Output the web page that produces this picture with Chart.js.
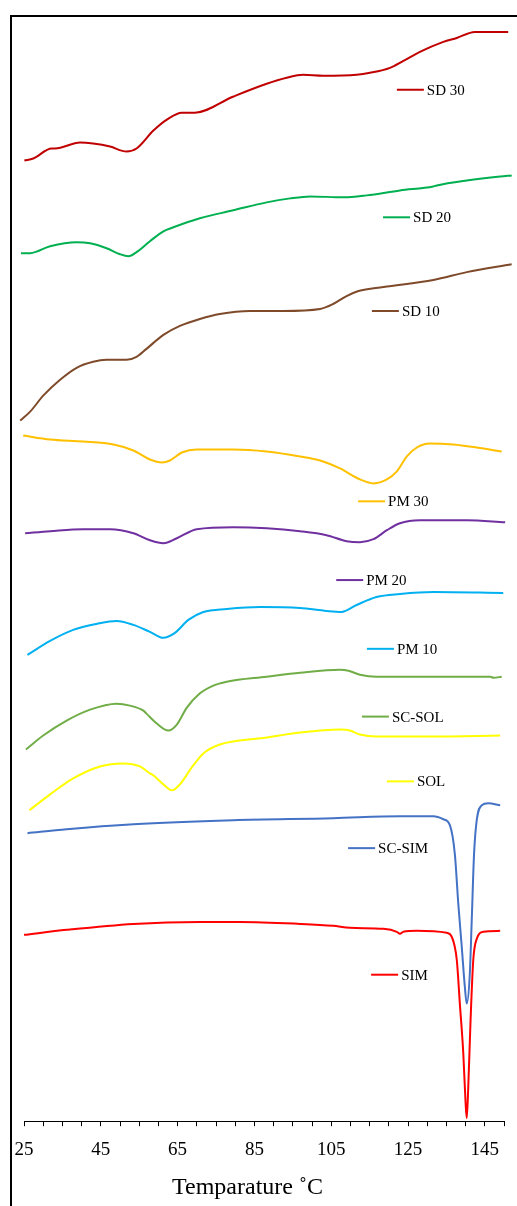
<!DOCTYPE html>
<html>
<head>
<meta charset="utf-8">
<script src="https://cdn.jsdelivr.net/npm/chart.js@4.4.1/dist/chart.umd.min.js"></script>
<style>
    body { margin: 0; background: #fff; }
    #wrap { position: relative; width: 517px; height: 1206px; overflow: hidden; }
    #frame {
        position: absolute; left: 10px; top: 15px; width: 700px; height: 1400px;
        border-left: 2px solid #000; border-top: 2px solid #000; pointer-events: none;
    }
</style>
</head>
<body>
<div id="wrap">
    <canvas id="dsc-chart" width="517" height="1206"></canvas>
    <div id="frame"></div>
</div>
<script>
/*
/----------------------------------------
/- DSC thermograms, stacked (offset heat flow, arb. units)
/- id canvas = dsc-chart
/----------------------------------------
*/

// series names + colours
const seriesNames = ["SD 30", "SD 20", "SD 10", "PM 30", "PM 20", "PM 10", "SC-SOL", "SOL", "SC-SIM", "SIM"];
const seriesColors = ["#C00000", "#00B050", "#7E4A2A", "#FFC000", "#7030A0", "#00B0F0", "#70AD47", "#FFFF00", "#4472C4", "#FF0000"];

// temperature (x) / signal (y)
const sd30T = [25.1, 27.4, 32.2, 33.1, 39.6, 43.0, 47.4, 51.7, 54.3, 58.7, 62.2, 66.1, 69.5, 79.4, 88.2, 93.4, 97.7, 102.9, 111.6, 115.1, 120.3, 123.8, 128.1, 134.2, 137.7, 142.4, 151.1, 151.6];
const sd30Y = [964, 966, 976, 976, 982, 981, 978, 973, 976, 994, 1005, 1012, 1012, 1028, 1041, 1047, 1050, 1049, 1050, 1052, 1057, 1064, 1073, 1083, 1087, 1093, 1093, 1090];

const sd20T = [24.2, 26.6, 31.8, 38.7, 42.2, 46.5, 50.0, 52.2, 54.3, 57.8, 61.3, 63.9, 70.8, 79.5, 88.2, 94.3, 99.5, 108.2, 114.2, 122.9, 131.6, 132.5, 140.3, 149.0, 152.0];
const sd20Y = [871, 871, 878, 882, 881, 876, 870, 868, 872, 883, 893, 897, 906, 914, 922, 926, 928, 927, 929, 934, 938, 939, 944, 948, 949];

const sd10T = [24.0, 26.6, 30.0, 34.4, 38.7, 43.0, 46.5, 51.7, 54.3, 56.9, 61.3, 65.6, 70.8, 76.0, 83.9, 92.5, 102.1, 105.5, 109.0, 112.1, 118.6, 131.6, 140.3, 152.0];
const sd10Y = [703, 712, 728, 744, 756, 762, 764, 764, 767, 775, 789, 798, 805, 810, 813, 813, 815, 820, 828, 833, 837, 844, 852, 860];

const pm30T = [24.8, 31.8, 40.4, 48.3, 53.5, 57.8, 60.9, 63.0, 66.1, 70.0, 79.5, 88.2, 96.9, 102.1, 107.3, 112.5, 116.0, 119.5, 122.1, 124.7, 127.3, 130.7, 136.8, 142.9, 149.4];
const pm30Y = [688, 684, 682, 679, 673, 664, 661, 663, 671, 674, 674, 672, 667, 663, 655, 644, 640, 644, 652, 667, 676, 680, 679, 676, 672];

const pm20T = [25.3, 31.8, 40.4, 47.4, 53.5, 57.8, 61.3, 64.8, 70.0, 79.5, 88.2, 96.9, 103.8, 109.0, 112.5, 116.0, 119.5, 122.9, 128.1, 140.3, 150.3];
const pm20Y = [590, 592, 594, 594, 590, 583, 580, 585, 594, 596, 595, 592, 588, 582, 581, 584, 593, 600, 603, 603, 601];

const pm10T = [25.9, 31.8, 37.8, 43.9, 49.1, 53.5, 57.8, 61.3, 64.3, 67.8, 71.7, 77.8, 86.5, 96.9, 103.8, 107.7, 111.6, 116.8, 122.9, 131.6, 149.8];
const pm10Y = [468, 482, 493, 499, 502, 498, 491, 485, 490, 503, 511, 514, 516, 515, 512, 511, 518, 526, 529, 531, 530];

const scSolT = [25.5, 30.0, 36.1, 42.2, 49.1, 52.6, 56.1, 56.9, 59.6, 62.6, 64.8, 67.4, 70.4, 74.3, 77.8, 88.2, 96.9, 107.3, 109.5, 112.5, 116.8, 131.6, 146.4, 147.3, 149.4];
const scSolY = [373, 387, 402, 413, 419, 417, 412, 409, 399, 392, 398, 415, 428, 437, 441, 446, 450, 453, 452, 448, 446, 446, 446, 445, 446];

const solT = [26.4, 31.8, 37.8, 44.8, 50.9, 55.2, 57.8, 58.7, 61.3, 63.5, 65.6, 68.7, 71.7, 76.0, 88.2, 96.9, 107.3, 109.9, 112.5, 116.8, 131.6, 149.0];
const solY = [312, 328, 344, 356, 359, 356, 349, 347, 338, 332, 338, 355, 369, 378, 385, 390, 393, 392, 388, 386, 386, 387];

const scSimT = [25.9, 36.1, 53.5, 79.5, 105.5, 122.9, 131.6, 134.2, 135.9, 137.2, 138.1, 139.0, 139.8, 140.3, 141.1, 141.6, 142.2, 142.9, 144.2, 145.9, 149.0];
const scSimY = [289, 293, 298, 302, 304, 306, 306, 303, 297, 268, 218, 175, 135, 118, 148, 202, 268, 302, 317, 319, 317];

const simT = [25.0, 36.1, 53.5, 70.8, 81.3, 96.9, 105.5, 109.9, 118.6, 122.1, 122.9, 123.8, 127.3, 135.1, 136.4, 137.7, 138.5, 139.4, 140.0, 140.3, 140.7, 141.3, 142.0, 142.9, 144.6, 149.0];
const simY = [187, 192, 198, 200, 200, 198, 196, 194, 193, 190, 188, 190, 191, 189, 185, 162, 118, 68, 18, 3, 35, 102, 162, 183, 190, 191];

// where each inline label sits (start of its little line key)
const labelT = [122.1, 118.5, 115.6, 112.0, 106.3, 114.3, 113.0, 119.5, 109.4, 115.4];
const labelY = [1035, 907, 813, 622, 543, 474, 406, 341, 274, 147];

// x axis
const xMin = 25;
const xMax = 150;
const xMajorTicks = [25, 45, 65, 85, 105, 125, 145];

const seriesT = [sd30T, sd20T, sd10T, pm30T, pm20T, pm10T, scSolT, solT, scSimT, simT];
const seriesY = [sd30Y, sd20Y, sd10Y, pm30Y, pm20Y, pm10Y, scSolY, solY, scSimY, simY];

// setup chart
const dataDsc = {
    datasets: seriesNames.map((name, i) => ({
        label: name,
        data: seriesT[i].map((t, j) => ({ x: t, y: seriesY[i][j] })),
        borderColor: seriesColors[i],
        borderWidth: 2,
        pointRadius: 0,
        fill: false,
        cubicInterpolationMode: "monotone",
        clip: false,
    })),
};

// inline labels: short line + name, next to each curve
const inlineLabels = {
    id: "inlineLabels",
    afterDatasetsDraw(chart) {
        const { ctx, scales } = chart;
        ctx.save();
        ctx.font = "15px 'Liberation Serif'";
        ctx.textBaseline = "middle";
        ctx.fillStyle = "#000";
        seriesNames.forEach((name, i) => {
            const x = scales.x.getPixelForValue(labelT[i]);
            const y = scales.y.getPixelForValue(labelY[i]);
            ctx.strokeStyle = seriesColors[i];
            ctx.lineWidth = 2;
            ctx.beginPath();
            ctx.moveTo(x, y);
            ctx.lineTo(x + 27, y);
            ctx.stroke();
            ctx.fillText(name, x + 30, y + 1);
        });
        ctx.restore();
    },
};

// axis title, sits a little left of centre like the original
const axisTitle = {
    id: "axisTitle",
    afterDraw(chart) {
        const { ctx, scales, chartArea } = chart;
        ctx.save();
        ctx.font = "24px 'Liberation Serif'";
        ctx.textAlign = "center";
        ctx.textBaseline = "alphabetic";
        ctx.fillStyle = "#000";
        ctx.fillText("Temparature ˚C", scales.x.getPixelForValue(83.2), chartArea.bottom + 73);
        ctx.restore();
    },
};

// config
const configDsc = {
    type: "line",
    data: dataDsc,
    options: {
        responsive: false,
        animation: false,
        layout: {
            padding: { left: 24, right: 13, top: 15, bottom: 33 },
        },
        plugins: {
            legend: { display: false },
            tooltip: { enabled: false },
        },
        scales: {
            x: {
                type: "linear",
                min: xMin,
                max: xMax,
                border: { display: true, color: "#000", width: 1 },
                grid: {
                    display: true,
                    drawOnChartArea: false,
                    drawTicks: true,
                    tickLength: 5,
                    color: "#000",
                },
                ticks: {
                    stepSize: 5,
                    autoSkip: false,
                    maxRotation: 0,
                    padding: 12,
                    color: "#000",
                    font: { family: "'Liberation Serif'", size: 19 },
                    callback: function (value) {
                        return xMajorTicks.includes(value) ? `${value}` : "";
                    },
                },
            },
            y: {
                display: false,
                min: 0,
                max: 1110,
            },
        },
    },
    plugins: [inlineLabels, axisTitle],
};

// render init block
const ctx = document.getElementById("dsc-chart");
new Chart(ctx, configDsc);
</script>
</body>
</html>
